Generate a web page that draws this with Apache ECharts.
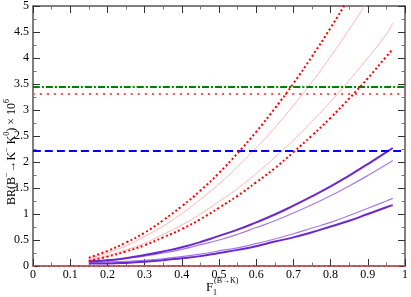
<!DOCTYPE html>
<html>
<head>
<meta charset="utf-8">
<script src="https://cdn.jsdelivr.net/npm/echarts@6/dist/echarts.min.js"></script>
<style>
html,body{margin:0;padding:0;background:#fff;}
#c{width:411px;height:297px;}
</style>
</head>
<body>
<div id="c"></div>
<script>
// ---- data ----
const xs = [0.15,0.2,0.25,0.3,0.35,0.4,0.45,0.5,0.55,0.6,0.65,0.7,0.75,0.8,0.85,0.9,0.95,0.967];
// red dotted (upper)
const redDotUpper = [0.16,0.29,0.45,0.64,0.88,1.15,1.45,1.79,2.17,2.58,3.03,3.51,4.03,4.58,5.17,5.80,6.46,6.70];
// pink thin (upper)
const pinkUpper = [0.14,0.25,0.39,0.57,0.77,1.01,1.28,1.58,1.91,2.27,2.66,3.09,3.54,4.03,4.55,5.10,5.69,5.90];
// pink thin (lower)
const pinkLower = [0.11,0.20,0.31,0.44,0.61,0.79,1.00,1.24,1.49,1.78,2.09,2.42,2.78,3.16,3.57,4.00,4.46,4.67];
// red dotted (lower)
const redDotLower = [0.10,0.18,0.28,0.40,0.55,0.71,0.90,1.12,1.35,1.61,1.88,2.19,2.51,2.85,3.22,3.61,4.03,4.17];
// purple thick (upper)
const purpleThickUpper = [0.09,0.11,0.15,0.21,0.28,0.36,0.46,0.58,0.70,0.84,0.99,1.16,1.34,1.53,1.74,1.96,2.19,2.27];
// purple thin (upper)
const purpleThinUpper = [0.09,0.11,0.15,0.19,0.25,0.32,0.41,0.50,0.61,0.74,0.87,1.02,1.18,1.35,1.54,1.74,1.95,2.03];
// purple thin (lower)
const purpleThinLower = [0.07,0.08,0.09,0.11,0.14,0.18,0.23,0.29,0.35,0.43,0.52,0.62,0.73,0.84,0.97,1.11,1.25,1.30];
// purple thick (lower)
const purpleThickLower = [0.05,0.05,0.06,0.08,0.11,0.15,0.19,0.25,0.31,0.38,0.47,0.55,0.65,0.76,0.87,1.00,1.13,1.17];
// horizontal reference levels
const greenLevel = 3.44;
const redLevel = 3.31;
const blueLevel = 2.21;
const zeroLevel = 0;
const xRange = [0, 1];
const yRange = [0, 5];

const pairs = ys => xs.map((x, i) => [x, ys[i]]);
const flat = v => xRange.map(x => [x, v]);

const chart = echarts.init(document.getElementById('c'), null, {renderer: 'canvas'});
const font = 'Liberation Serif';
const axCommon = {
  type: 'value',
  axisLine: {show: true, onZero: false, lineStyle: {color: '#555', width: 1.5}},
  axisTick: {show: true, inside: true, length: 7, lineStyle: {color: '#333', width: 1}},
  minorTick: {show: true, splitNumber: 2, length: 3.5, lineStyle: {color: '#777', width: 1}},
  splitLine: {show: false},
  axisLabel: {show: true, color: '#000', fontFamily: font, fontSize: 12}
};
function ax(extra) { return Object.assign(JSON.parse(JSON.stringify(axCommon)), extra); }

function line(data, color, width, dash, z) {
  return {
    type: 'line', data: data, showSymbol: false, symbol: 'none', smooth: true,
    clip: true, silent: true, z: z || 2, animation: false,
    lineStyle: {color: color, width: width, type: dash || 'solid', cap: 'butt'}
  };
}

chart.setOption({
  animation: false,
  backgroundColor: '#fff',
  grid: {left: 33, right: 4, top: 5, bottom: 31, containLabel: false},
  xAxis: [
    ax({min: xRange[0], max: xRange[1], interval: 0.1, position: 'bottom',
        axisLabel: {show: true, color: '#000', fontFamily: font, fontSize: 12, margin: 3}}),
    ax({min: xRange[0], max: xRange[1], interval: 0.1, position: 'top',
        axisLabel: {show: false}})
  ],
  yAxis: [
    ax({min: yRange[0], max: yRange[1], interval: 0.5, position: 'left',
        axisLabel: {show: true, color: '#000', fontFamily: font, fontSize: 12, margin: 4}}),
    ax({min: yRange[0], max: yRange[1], interval: 0.5, position: 'right',
        axisLabel: {show: false}})
  ],
  graphic: [
    {type: 'text', left: 206, top: 281, style: {text: 'F', font: '13px "Liberation Serif"', fill: '#000'}},
    {type: 'text', left: 214, top: 277, style: {text: '(B\u2192K)', font: '8px "Liberation Serif"', fill: '#000'}},
    {type: 'text', left: 213, top: 289, style: {text: '1', font: '8px "Liberation Serif"', fill: '#000'}},
    {type: 'text', x: 3, y: 152, rotation: Math.PI / 2,
     style: {
       text: '{n|BR(B}{s|\u2212}{n|\u2192K}{s|\u2212}{n| K}{s|0}{n|) \u00D7 10}{s|6}',
       align: 'center', verticalAlign: 'top',
       rich: {
         n: {fontFamily: font, fontSize: 12, lineHeight: 15, fill: '#000', verticalAlign: 'bottom'},
         s: {fontFamily: font, fontSize: 8, lineHeight: 15, fill: '#000', verticalAlign: 'top'}
       }
     }}
  ],
  series: [
    line(flat(zeroLevel), '#ff3030', 2, [2, 3], 3),
    line(flat(greenLevel), '#008000', 2, [7, 2, 2, 2], 3),
    line(flat(redLevel), '#ff5050', 2, [2, 5], 3),
    line(flat(blueLevel), '#0000ff', 2, [8, 4], 3),
    line(pairs(pinkUpper), '#ffb4b4', 1),
    line(pairs(pinkLower), '#ffb4b4', 1),
    line(pairs(redDotUpper), '#ff0000', 2, [2, 2.5], 3),
    line(pairs(redDotLower), '#ff0000', 2, [2, 2.5], 3),
    line(pairs(purpleThinUpper), '#a47ae6', 1.2),
    line(pairs(purpleThinLower), '#a47ae6', 1.2),
    line(pairs(purpleThickUpper), '#6a28d2', 2),
    line(pairs(purpleThickLower), '#6a28d2', 2)
  ]
});
</script>
</body>
</html>
